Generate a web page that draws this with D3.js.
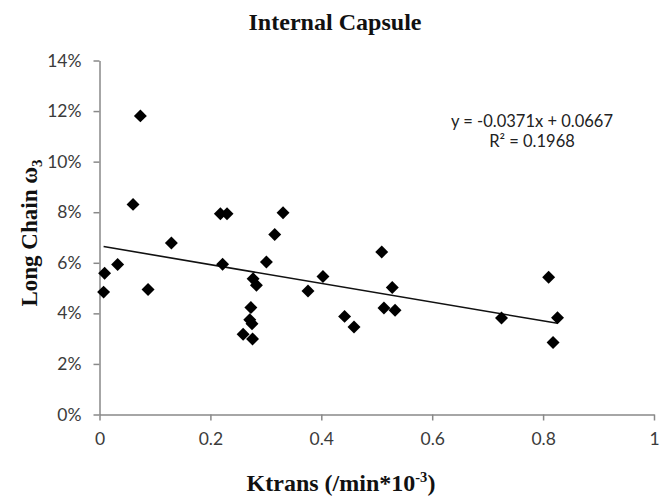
<!DOCTYPE html>
<html>
<head>
<meta charset="utf-8">
<script src="https://cdn.jsdelivr.net/npm/d3@7"></script>
<style>
  html, body { margin: 0; padding: 0; background: #fff; }
  svg { display: block; }
</style>
</head>
<body>
<svg id="chart" width="670" height="497"></svg>
<script>
// ---- data ----
const ktrans = [0.0074, 0.0092, 0.0327, 0.0605, 0.0737, 0.0876, 0.1296, 0.218, 0.230, 0.222,
                0.331, 0.316, 0.301, 0.277, 0.283, 0.273, 0.271, 0.275, 0.259, 0.276,
                0.376, 0.403, 0.442, 0.459, 0.509, 0.528, 0.513, 0.533, 0.725, 0.810, 0.826, 0.818];
const omega3 = [0.0484, 0.0559, 0.0593, 0.0831, 0.1181, 0.0494, 0.0678, 0.0794, 0.0794, 0.0594,
                0.0798, 0.0712, 0.0603, 0.0537, 0.0511, 0.0423, 0.0375, 0.0359, 0.0317, 0.0299,
                0.0488, 0.0546, 0.0388, 0.0346, 0.0643, 0.0502, 0.0421, 0.0412, 0.0382, 0.0543, 0.0383, 0.0285];
const xTicks = [0, 0.2, 0.4, 0.6, 0.8, 1];
const xTickLabels = ["0", "0.2", "0.4", "0.6", "0.8", "1"];
const yTicks = [0, 0.02, 0.04, 0.06, 0.08, 0.10, 0.12, 0.14];
const yTickLabels = ["0%", "2%", "4%", "6%", "8%", "10%", "12%", "14%"];
const trendSlope = -0.0371;
const trendIntercept = 0.0667;
const equationLines = ["y = -0.0371x + 0.0667", "R² = 0.1968"];
const titleText = "Internal Capsule";

// ---- layout ----
const svg = d3.select("#chart");
const x = d3.scaleLinear().domain([0, 1]).range([99.5, 654]);
const y = d3.scaleLinear().domain([0, 0.14]).range([414.5, 60.5]);
const axisColor = "#898989";
const textColor = "#3b3b3b";
const tickFont = "Lato, 'Open Sans', sans-serif";
const serif = "'Liberation Serif', 'DejaVu Serif', serif";

// title
svg.append("text")
  .attr("x", 335).attr("y", 30)
  .attr("text-anchor", "middle")
  .attr("font-family", serif).attr("font-weight", "bold")
  .attr("font-size", 23.5).attr("fill", "#111")
  .attr("textLength", 173).attr("lengthAdjust", "spacingAndGlyphs")
  .text(titleText);

// y axis
const yAxis = svg.append("g")
  .attr("transform", `translate(${x(0)},0)`)
  .call(d3.axisLeft(y).tickValues(yTicks)
        .tickFormat((d, i) => yTickLabels[i])
        .tickSize(6).tickSizeOuter(0).tickPadding(12));
// x axis
const xAxis = svg.append("g")
  .attr("transform", `translate(0,${y(0)})`)
  .call(d3.axisBottom(x).tickValues(xTicks)
        .tickFormat((d, i) => xTickLabels[i])
        .tickSize(6).tickSizeOuter(0).tickPadding(12));

[yAxis, xAxis].forEach(g => {
  g.select(".domain").attr("stroke", axisColor).attr("stroke-width", 1.5);
  g.selectAll(".tick line").attr("stroke", axisColor).attr("stroke-width", 1.5);
  g.selectAll(".tick text").attr("fill", textColor)
    .attr("font-family", tickFont).attr("font-size", 17.5);
});

// y axis title
const yTitle = svg.append("text")
  .attr("transform", `translate(37,${233}) rotate(-90)`)
  .attr("text-anchor", "middle")
  .attr("font-family", serif).attr("font-weight", "bold")
  .attr("font-size", 23).attr("fill", "#111");
yTitle.append("tspan").text("Long Chain ω");
yTitle.append("tspan").attr("font-size", 15).attr("dy", 5).text("3");

// x axis title
const xTitle = svg.append("text")
  .attr("x", 341).attr("y", 491)
  .attr("text-anchor", "middle")
  .attr("font-family", serif).attr("font-weight", "bold")
  .attr("font-size", 24).attr("fill", "#111");
xTitle.append("tspan").text("Ktrans (/min*10");
xTitle.append("tspan").attr("font-size", 14.5).attr("dy", -9).text("-3");
xTitle.append("tspan").attr("dy", 9).text(")");

// trendline
const xExt = d3.extent(ktrans);
svg.append("line")
  .attr("x1", x(xExt[0])).attr("y1", y(trendSlope * xExt[0] + trendIntercept))
  .attr("x2", x(xExt[1])).attr("y2", y(trendSlope * xExt[1] + trendIntercept))
  .attr("stroke", "#111").attr("stroke-width", 1.6);

// points
const pts = ktrans.map((k, i) => ({ k, w: omega3[i] }));
const sym = d3.symbol().type(d3.symbolSquare).size(84);
svg.append("g").selectAll("path").data(pts).join("path")
  .attr("d", sym)
  .attr("transform", d => `translate(${x(d.k)},${y(d.w)}) rotate(45)`)
  .attr("fill", "#000");

// equation
svg.append("g").selectAll("text").data(equationLines).join("text")
  .attr("x", 532).attr("y", (d, i) => 126.5 + i * 20)
  .attr("text-anchor", "middle")
  .attr("font-family", tickFont).attr("font-size", 16.5)
  .attr("fill", "#222")
  .text(d => d);
</script>
</body>
</html>
